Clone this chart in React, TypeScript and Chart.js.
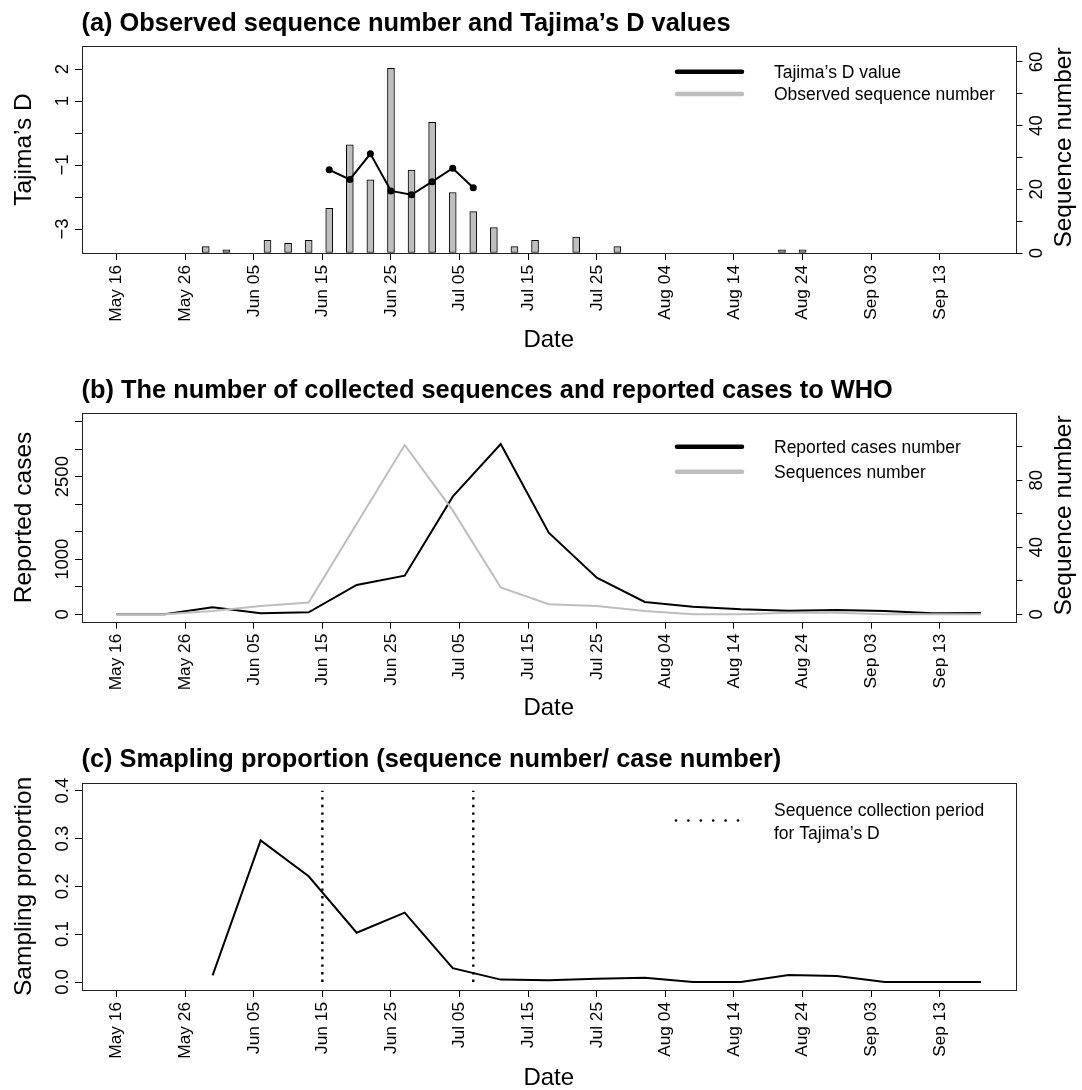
import React, { useEffect, useRef } from "react";
import { Chart, registerables } from "chart.js";

Chart.register(...registerables);

const FONT = '"Liberation Sans", Arial, Helvetica, sans-serif';

// ---------- shared date axis (days since May 16) ----------
const tickDays = [0, 10, 20, 30, 40, 50, 60, 70, 80, 90, 100, 110, 120];
const tickLabels = ["May 16", "May 26", "Jun 05", "Jun 15", "Jun 25", "Jul 05", "Jul 15", "Jul 25", "Aug 04", "Aug 14", "Aug 24", "Sep 03", "Sep 13"];
const xMin = -5.04;
const xMax = 131.04;

// ---------- panel (a) ----------
const barDays = [13, 16, 19, 22, 25, 28, 31, 34, 37, 40, 43, 46, 49, 52, 55, 58, 61, 64, 67, 70, 73, 76, 79, 82, 85, 88, 91, 94, 97, 100];
const observedSeq = [2, 1, 0, 4, 3, 4, 14, 34, 23, 58, 26, 41, 19, 13, 8, 2, 4, 0, 5, 0, 2, 0, 0, 0, 0, 0, 0, 0, 1, 1];
const tajimaDays = [31, 34, 37, 40, 43, 46, 49, 52];
const tajimaD = [-1.15, -1.45, -0.65, -1.81, -1.93, -1.52, -1.1, -1.71];
const tajimaTicks = [-3, -2, -1, 0, 1, 2];
const tajimaTickLabels = ["\u22123", "", "\u22121", "", "1", "2"];
const seqATicks = [0, 10, 20, 30, 40, 50, 60];
const seqATickLabels = ["0", "", "20", "", "40", "", "60"];

// ---------- panel (b) ----------
const weekDays = [0, 7, 14, 21, 28, 35, 42, 49, 56, 63, 70, 77, 84, 91, 98, 105, 112, 119, 126];
const reportedCases = [0, 0, 127, 18, 36, 533, 702, 2137, 3093, 1483, 666, 224, 139, 91, 67, 79, 61, 18, 24];
const sequencesWeekly = [0, 0, 2, 5, 7, 54, 101, 62, 16, 6, 5, 2, 0, 0, 1, 1, 0, 0, 0];
const casesTicks = [0, 500, 1000, 1500, 2000, 2500, 3000, 3500];
const casesTickLabels = ["0", "", "1000", "", "", "2500", "", ""];
const seqBTicks = [0, 20, 40, 60, 80, 100];
const seqBTickLabels = ["0", "", "40", "", "80", ""];

// ---------- panel (c) ----------
const samplingProportion = [null, null, 0.014, 0.296, 0.221, 0.103, 0.145, 0.029, 0.005, 0.0035, 0.007, 0.009, 0, 0, 0.0146, 0.0125, 0, 0, 0];
const propTicks = [0, 0.1, 0.2, 0.3, 0.4];
const propTickLabels = ["0.0", "0.1", "0.2", "0.3", "0.4"];
const periodDays = [30, 52];

const GRAY = "#BEBEBE";

function rotText(ctx: CanvasRenderingContext2D, s: string, x: number, y: number) {
  ctx.save();
  ctx.translate(x, y);
  ctx.rotate(-Math.PI / 2);
  ctx.textAlign = "center";
  ctx.textBaseline = "alphabetic";
  ctx.fillText(s, 0, 0);
  ctx.restore();
}

interface DecorSpec {
  id: string;
  title: string;
  titleY: number;
  dateY: number;
  leftTitle: string;
  rightTitle?: string;
  leftId: string;
  rightId?: string;
  leftTicks: number[];
  leftLabels: string[];
  rightTicks?: number[];
  rightLabels?: string[];
  legend: (ctx: CanvasRenderingContext2D) => void;
}

function makeDecor(spec: DecorSpec) {
  return {
    id: spec.id,
    afterDraw(chart: any) {
      const ctx: CanvasRenderingContext2D = chart.ctx;
      const a = chart.chartArea;
      ctx.save();
      // frame
      ctx.strokeStyle = "#222";
      ctx.lineWidth = 1;
      const l = Math.round(a.left) + 0.5;
      const t = Math.round(a.top) + 0.5;
      const r = Math.round(a.right) + 0.5;
      const b = Math.round(a.bottom) + 0.5;
      ctx.strokeRect(l, t, r - l, b - t);
      ctx.fillStyle = "#000";
      // title
      ctx.font = `bold 25.4px ${FONT}`;
      ctx.textAlign = "left";
      ctx.textBaseline = "alphabetic";
      ctx.fillText(spec.title, a.left - 0.5, spec.titleY);
      // x title
      ctx.font = `24px ${FONT}`;
      ctx.textAlign = "center";
      ctx.fillText("Date", (a.left + a.right) / 2, spec.dateY);
      // y titles
      const cy = (a.top + a.bottom) / 2;
      ctx.font = `24.5px ${FONT}`;
      rotText(ctx, spec.leftTitle, 31, cy);
      if (spec.rightTitle) rotText(ctx, spec.rightTitle, 1071, cy - 2);
      // y tick labels
      ctx.font = `18.5px ${FONT}`;
      const ls = chart.scales[spec.leftId];
      spec.leftTicks.forEach((v, i) => {
        const s = spec.leftLabels[i];
        if (s) rotText(ctx, s, 68, ls.getPixelForValue(v));
      });
      if (spec.rightId && spec.rightTicks && spec.rightLabels) {
        const rs = chart.scales[spec.rightId];
        spec.rightTicks.forEach((v, i) => {
          const s = spec.rightLabels![i];
          if (s) rotText(ctx, s, 1041.5, rs.getPixelForValue(v));
        });
      }
      // legend
      spec.legend(ctx);
      ctx.restore();
    },
  };
}

function legendLine(ctx: CanvasRenderingContext2D, y: number, color: string) {
  ctx.save();
  ctx.strokeStyle = color;
  ctx.lineWidth = 4.5;
  ctx.lineCap = "round";
  ctx.beginPath();
  ctx.moveTo(677, y);
  ctx.lineTo(742, y);
  ctx.stroke();
  ctx.restore();
}

function legendText(ctx: CanvasRenderingContext2D, s: string, y: number) {
  ctx.save();
  ctx.fillStyle = "#000";
  ctx.font = `17.5px ${FONT}`;
  ctx.textAlign = "left";
  ctx.textBaseline = "alphabetic";
  ctx.fillText(s, 774, y + 6.3);
  ctx.restore();
}

function xScale(height: number) {
  return {
    type: "linear",
    min: xMin,
    max: xMax,
    offset: false,
    afterBuildTicks: (s: any) => {
      s.ticks = tickDays.map((v) => ({ value: v }));
    },
    afterFit: (s: any) => {
      s.height = height;
    },
    ticks: {
      autoSkip: false,
      minRotation: 90,
      maxRotation: 90,
      padding: 5,
      color: "#000",
      font: { family: FONT, size: 17.3 },
      callback: (_v: any, i: number) => tickLabels[i],
    },
    grid: { display: true, offset: false, drawOnChartArea: false, drawTicks: true, tickLength: 7, color: "#000", lineWidth: 1 },
    border: { display: false },
  };
}

function yScale(position: "left" | "right", min: number, max: number, ticks: number[], width: number) {
  return {
    type: "linear",
    position,
    min,
    max,
    afterBuildTicks: (s: any) => {
      s.ticks = ticks.map((v) => ({ value: v }));
    },
    afterFit: (s: any) => {
      s.width = width;
    },
    ticks: { display: false },
    grid: { display: true, offset: false, drawOnChartArea: false, drawTicks: true, tickLength: 7, color: "#000", lineWidth: 1 },
    border: { display: false },
  };
}

const baseOptions = {
  responsive: false,
  maintainAspectRatio: false,
  animation: false,
  devicePixelRatio: 1,
  events: [],
  plugins: { legend: { display: false }, title: { display: false }, tooltip: { enabled: false } },
};

function configA(): any {
  return {
    type: "bar",
    data: {
      datasets: [
        {
          type: "line",
          label: "Tajima\u2019s D value",
          data: tajimaDays.map((d, i) => ({ x: d, y: tajimaD[i] })),
          yAxisID: "yD",
          borderColor: "#000",
          borderWidth: 2,
          pointRadius: 3.5,
          pointBackgroundColor: "#000",
          pointBorderWidth: 0,
          tension: 0,
          order: 0,
        },
        {
          type: "bar",
          label: "Observed sequence number",
          data: barDays.map((d, i) => ({ x: d, y: observedSeq[i] })),
          yAxisID: "yS",
          backgroundColor: GRAY,
          borderColor: "#000",
          borderWidth: 1,
          borderSkipped: false,
          barThickness: 7,
          grouped: false,
          order: 1,
        },
      ],
    },
    options: {
      ...baseOptions,
      layout: { padding: { top: 46, left: 0, right: 0, bottom: 0 } },
      scales: {
        x: xScale(102),
        yD: yScale("left", -3.75, 2.72, tajimaTicks, 82),
        yS: yScale("right", 0, 65, seqATicks, 66.5),
      },
    },
    plugins: [
      makeDecor({
        id: "decorA",
        title: "(a) Observed sequence number and Tajima\u2019s D values",
        titleY: 30.5,
        dateY: 347,
        leftTitle: "Tajima\u2019s D",
        rightTitle: "Sequence number",
        leftId: "yD",
        rightId: "yS",
        leftTicks: tajimaTicks,
        leftLabels: tajimaTickLabels,
        rightTicks: seqATicks,
        rightLabels: seqATickLabels,
        legend: (ctx) => {
          legendLine(ctx, 71.7, "#000");
          legendText(ctx, "Tajima\u2019s D value", 71.7);
          legendLine(ctx, 94, GRAY);
          legendText(ctx, "Observed sequence number", 94);
        },
      }),
    ],
  };
}

function configB(): any {
  return {
    type: "line",
    data: {
      datasets: [
        {
          label: "Reported cases number",
          data: weekDays.map((d, i) => ({ x: d, y: reportedCases[i] })),
          yAxisID: "yC",
          borderColor: "#000",
          borderWidth: 2,
          pointRadius: 0,
          tension: 0,
          order: 1,
        },
        {
          label: "Sequences number",
          data: weekDays.map((d, i) => ({ x: d, y: sequencesWeekly[i] })),
          yAxisID: "yS",
          borderColor: GRAY,
          borderWidth: 2,
          pointRadius: 0,
          tension: 0,
          order: 0,
        },
      ],
    },
    options: {
      ...baseOptions,
      layout: { padding: { top: 58.3, left: 0, right: 0, bottom: 0 } },
      scales: {
        x: xScale(103.3),
        yC: yScale("left", -134, 3650, casesTicks, 82),
        yS: yScale("right", -4.41, 119.9, seqBTicks, 66.5),
      },
    },
    plugins: [
      makeDecor({
        id: "decorB",
        title: "(b) The number of collected sequences and reported cases to WHO",
        titleY: 42.8,
        dateY: 360,
        leftTitle: "Reported cases",
        rightTitle: "Sequence number",
        leftId: "yC",
        rightId: "yS",
        leftTicks: casesTicks,
        leftLabels: casesTickLabels,
        rightTicks: seqBTicks,
        rightLabels: seqBTickLabels,
        legend: (ctx) => {
          legendLine(ctx, 91.7, "#000");
          legendText(ctx, "Reported cases number", 91.7);
          legendLine(ctx, 116.7, GRAY);
          legendText(ctx, "Sequences number", 116.7);
        },
      }),
    ],
  };
}

function configC(): any {
  return {
    type: "line",
    data: {
      datasets: [
        {
          label: "Sampling proportion",
          data: weekDays.map((d, i) => ({ x: d, y: samplingProportion[i] })),
          yAxisID: "yP",
          borderColor: "#000",
          borderWidth: 2,
          pointRadius: 0,
          tension: 0,
          spanGaps: false,
        },
        ...periodDays.map((d) => ({
          label: "Sequence collection period for Tajima\u2019s D",
          data: [
            { x: d, y: propTicks[0] },
            { x: d, y: propTicks[propTicks.length - 1] },
          ],
          yAxisID: "yP",
          borderColor: "#000",
          borderWidth: 2.4,
          borderDash: [2.4, 5.2],
          borderCapStyle: "butt",
          pointRadius: 0,
        })),
      ],
    },
    options: {
      ...baseOptions,
      layout: { padding: { top: 57.7, left: 0, right: 66.5, bottom: 0 } },
      scales: {
        x: xScale(100),
        yP: yScale("left", -0.0167, 0.4167, propTicks, 82),
      },
    },
    plugins: [
      makeDecor({
        id: "decorC",
        title: "(c) Smapling proportion (sequence number/ case number)",
        titleY: 42,
        dateY: 360,
        leftTitle: "Sampling proportion",
        leftId: "yP",
        leftTicks: propTicks,
        leftLabels: propTickLabels,
        legend: (ctx) => {
          ctx.save();
          ctx.fillStyle = "#000";
          for (let k = 0; k < 6; k++) {
            ctx.beginPath();
            ctx.arc(676 + k * 12.4, 95.5, 1.3, 0, Math.PI * 2);
            ctx.fill();
          }
          ctx.restore();
          legendText(ctx, "Sequence collection period", 85);
          legendText(ctx, "for Tajima\u2019s D", 107.7);
        },
      }),
    ],
  };
}

function Panel({ top, height, make }: { top: number; height: number; make: () => any }) {
  const ref = useRef<HTMLCanvasElement>(null);
  useEffect(() => {
    const chart = new Chart(ref.current as HTMLCanvasElement, make());
    return () => chart.destroy();
  }, []);
  return (
    <canvas
      ref={ref}
      width={1082}
      height={height}
      style={{ position: "absolute", left: 0, top, width: 1082, height, display: "block" }}
    />
  );
}

export default function App() {
  return (
    <div style={{ position: "absolute", left: 0, top: 0, width: 1082, height: 1090, background: "#fff", overflow: "hidden" }}>
      <Panel top={0} height={355} make={configA} />
      <Panel top={355} height={370} make={configB} />
      <Panel top={725} height={365} make={configC} />
    </div>
  );
}
